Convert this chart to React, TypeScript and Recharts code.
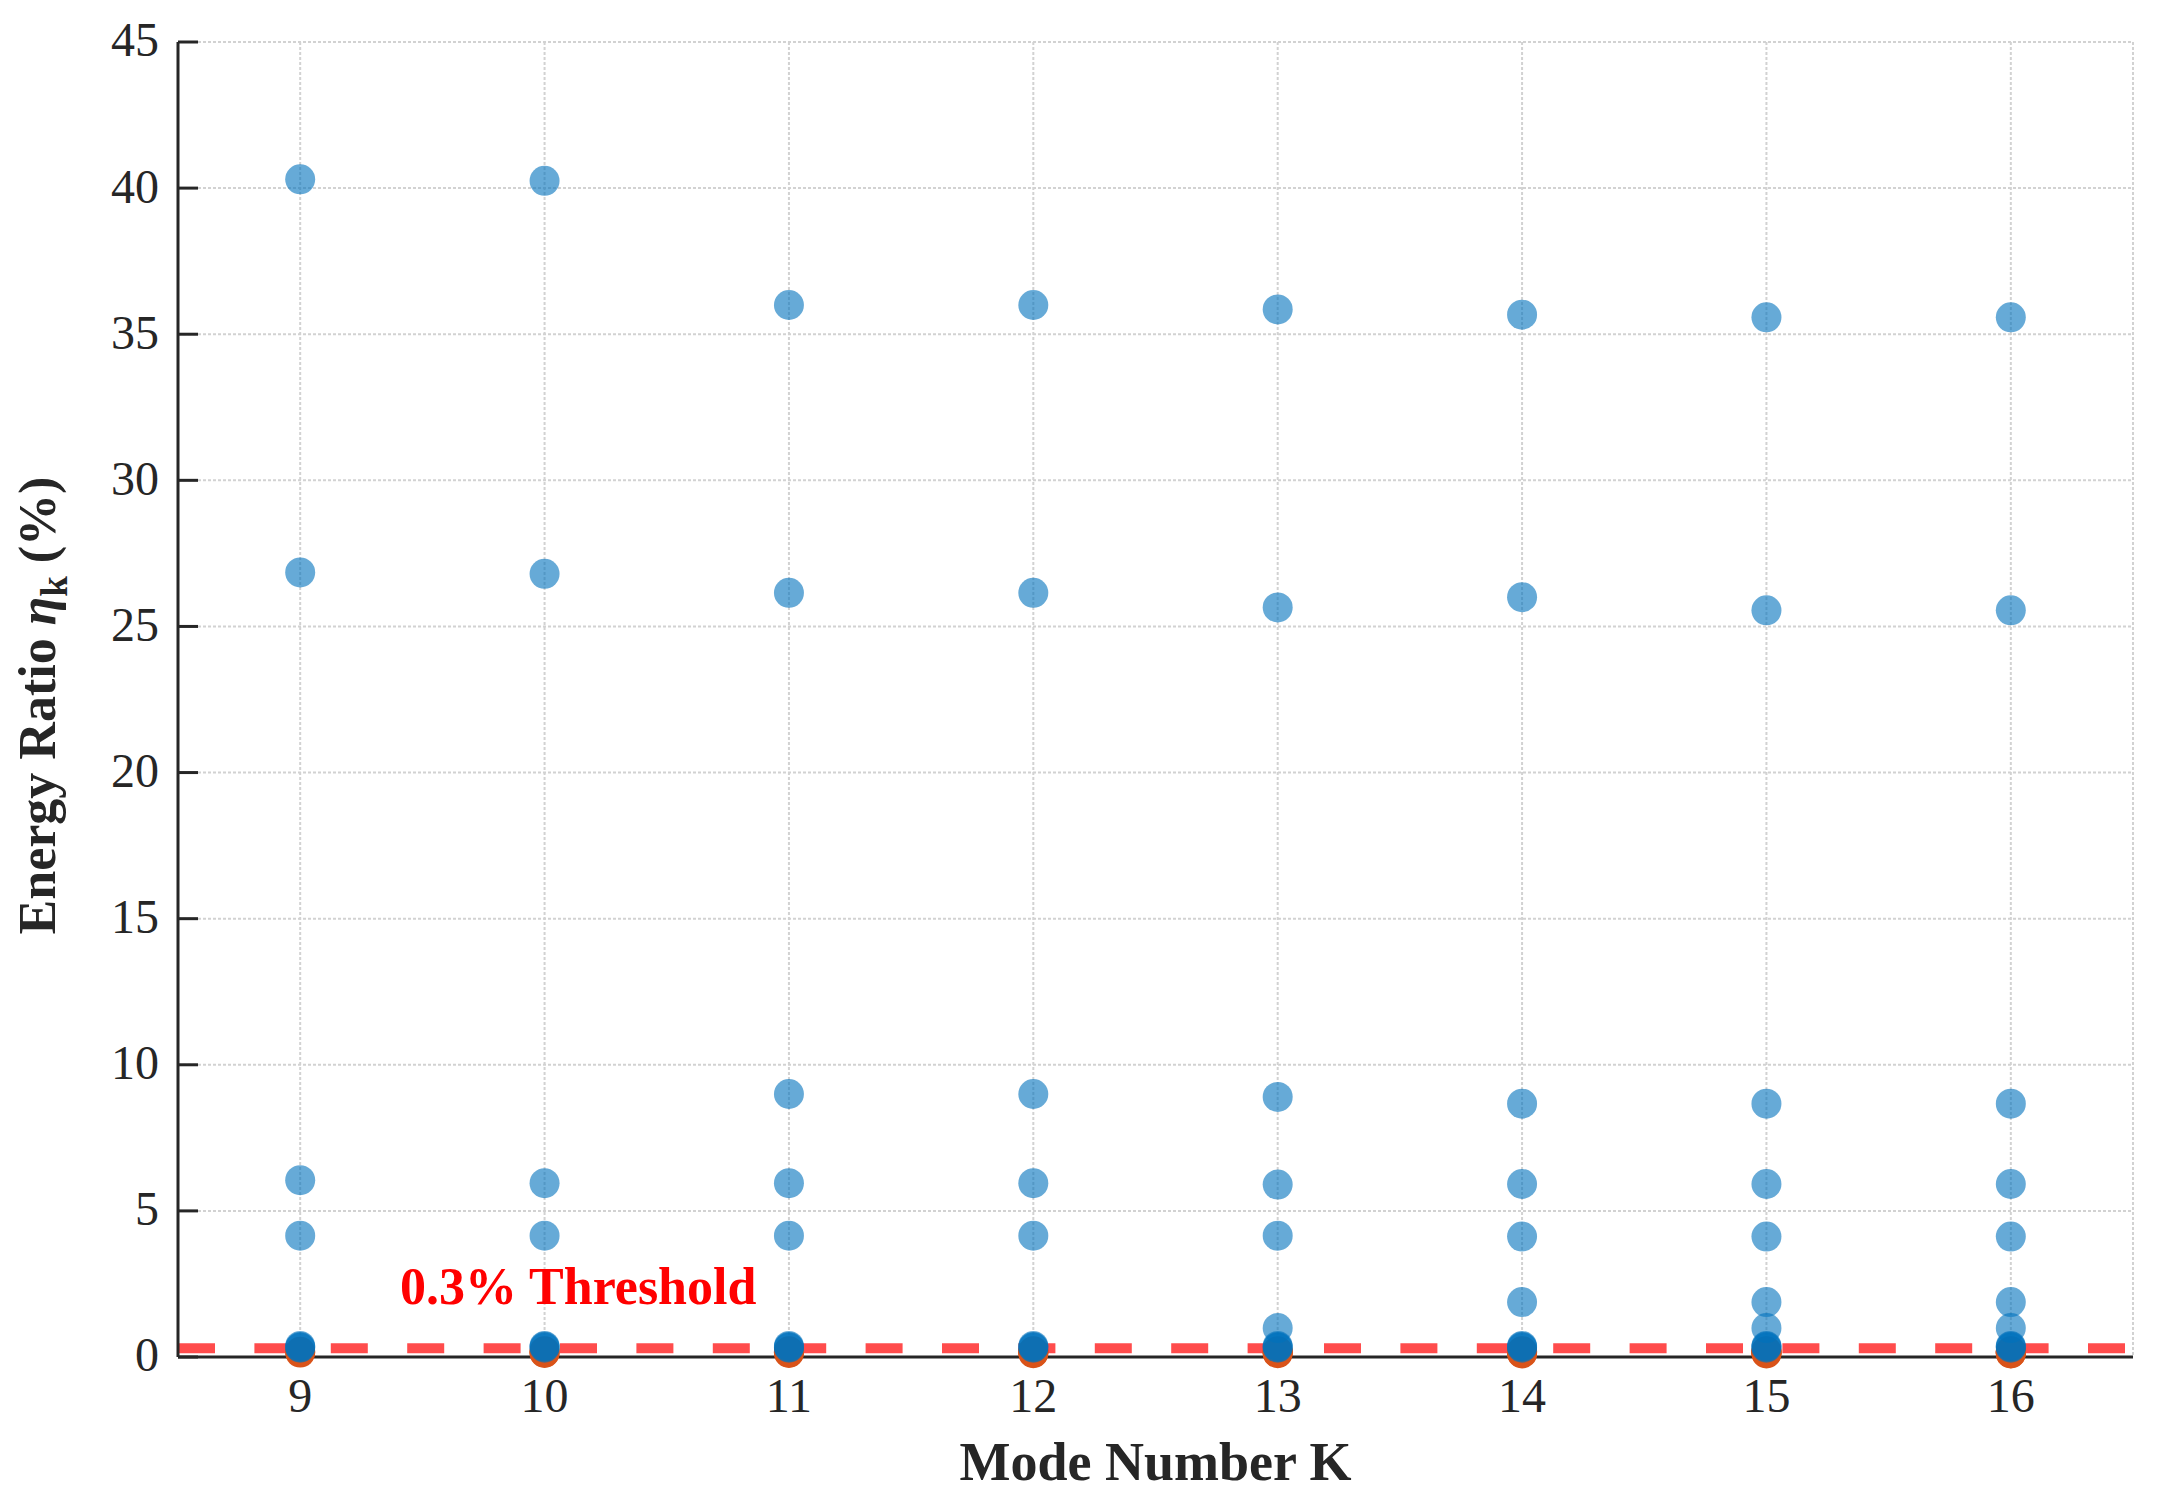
import React from 'react';
import { ScatterChart, Scatter, XAxis, YAxis, CartesianGrid, ReferenceLine } from 'recharts';

// energy ratio (%) of every mode, one list per mode number K
const modeNumbers = [9, 10, 11, 12, 13, 14, 15, 16];
const ratiosK9 = [40.3, 26.85, 6.05, 4.15, 0.38, 0.34, 0.32, 0.18, 0.15];
const ratiosK10 = [40.25, 26.8, 5.95, 4.15, 0.38, 0.35, 0.32, 0.2, 0.16, 0.14];
const ratiosK11 = [36.0, 26.15, 9.0, 5.95, 4.15, 0.38, 0.34, 0.32, 0.2, 0.16, 0.14];
const ratiosK12 = [36.0, 26.15, 9.0, 5.95, 4.15, 0.38, 0.34, 0.32, 0.2, 0.17, 0.15, 0.13];
const ratiosK13 = [35.85, 25.65, 8.9, 5.9, 4.15, 0.99, 0.38, 0.34, 0.32, 0.2, 0.17, 0.15, 0.13];
const ratiosK14 = [35.67, 26.0, 8.67, 5.92, 4.12, 1.88, 0.38, 0.35, 0.32, 0.2, 0.18, 0.16, 0.14, 0.12];
const ratiosK15 = [35.58, 25.55, 8.67, 5.92, 4.12, 1.88, 0.99, 0.38, 0.35, 0.32, 0.2, 0.18, 0.16, 0.14, 0.12];
const ratiosK16 = [35.58, 25.55, 8.67, 5.92, 4.12, 1.88, 0.99, 0.38, 0.35, 0.32, 0.2, 0.18, 0.17, 0.15, 0.13, 0.12];
const ratioTable = [ratiosK9, ratiosK10, ratiosK11, ratiosK12, ratiosK13, ratiosK14, ratiosK15, ratiosK16];

const threshold = 0.3;
const yTicks = [0, 5, 10, 15, 20, 25, 30, 35, 40, 45];

const allPoints = modeNumbers.flatMap((k, i) => ratioTable[i].map((ratio) => ({ k, ratio })));
const keptPoints = allPoints.filter((p) => p.ratio >= threshold);
const droppedPoints = allPoints.filter((p) => p.ratio < threshold);

const FONT = '"Liberation Serif", "DejaVu Serif", serif';
const INK = '#262626';

const YTick = (props: any) => {
    const { x, y, payload } = props;
    return (
        <g>
            <line x1={x + 19} x2={x + 39} y1={y} y2={y} stroke={INK} strokeWidth={3} />
            <text x={x} y={y} dy="0.3em" textAnchor="end" fontFamily={FONT} fontSize={48} fill={INK}>
                {payload.value}
            </text>
        </g>
    );
};

const Dot = (color: string, opacity: number) => (props: any) => (
    <circle cx={props.cx} cy={props.cy} r={15} fill={color} fillOpacity={opacity} />
);

export default function App() {
    return (
        <div style={{ position: 'absolute', left: 0, top: 0, background: '#fff' }}>
            <ScatterChart width={2159} height={1495} margin={{ top: 42, right: 26, left: 0, bottom: 0 }}>
                <CartesianGrid stroke="#d2d2d2" strokeWidth={2} strokeDasharray="3 2" />
                <XAxis
                    type="number"
                    dataKey="k"
                    domain={[8.5, 16.5]}
                    ticks={modeNumbers}
                    height={138}
                    tickLine={false}
                    tickSize={0}
                    tickMargin={21}
                    axisLine={{ stroke: INK, strokeWidth: 3 }}
                    tick={{ fontFamily: FONT, fontSize: 48, fill: INK }}
                    label={{
                        content: (p: any) => (
                            <text
                                x={p.viewBox.x + p.viewBox.width / 2}
                                y={p.viewBox.y + 123}
                                textAnchor="middle"
                                fontFamily={FONT}
                                fontWeight="bold"
                                fontSize={54}
                                fill={INK}
                            >
                                Mode Number K
                            </text>
                        ),
                    }}
                />
                <YAxis
                    type="number"
                    dataKey="ratio"
                    domain={[0, 45]}
                    ticks={yTicks}
                    width={178}
                    tickLine={false}
                    tickSize={0}
                    tickMargin={19}
                    axisLine={{ stroke: INK, strokeWidth: 3 }}
                    tick={<YTick />}
                    label={{
                        content: (p: any) => {
                            const cx = p.viewBox.x + 55;
                            const cy = p.viewBox.y + p.viewBox.height / 2 + 6;
                            return (
                                <text
                                    x={cx}
                                    y={cy}
                                    transform={`rotate(-90, ${cx}, ${cy})`}
                                    textAnchor="middle"
                                    fontFamily={FONT}
                                    fontWeight="bold"
                                    fontSize={52}
                                    fill={INK}
                                >
                                    Energy Ratio <tspan fontStyle="italic">η</tspan>
                                    <tspan fontSize={37} dy={12}>k</tspan>
                                    <tspan dy={-12}> (%)</tspan>
                                </text>
                            );
                        },
                    }}
                />
                <Scatter data={droppedPoints} shape={Dot('#D95319', 1)} isAnimationActive={false} />
                <Scatter data={keptPoints} shape={Dot('#0072BD', 0.6)} isAnimationActive={false} />
                <ReferenceLine
                    y={threshold}
                    stroke="#FF0000"
                    strokeOpacity={0.7}
                    strokeWidth={10}
                    strokeDasharray="37 39.4"
                    label={{
                        content: (p: any) => (
                            <text
                                x={p.viewBox.x + 222}
                                y={p.viewBox.y - 44}
                                fontFamily={FONT}
                                fontWeight="bold"
                                fontSize={52}
                                fill="#FF0000"
                            >
                                0.3% Threshold
                            </text>
                        ),
                    }}
                />
            </ScatterChart>
        </div>
    );
}
